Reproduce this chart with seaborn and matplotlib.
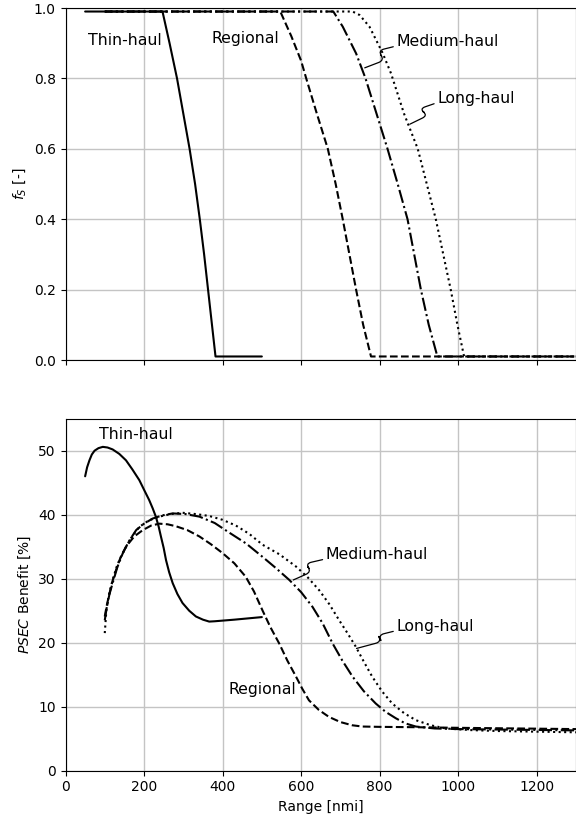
import matplotlib
matplotlib.use("Agg")
import matplotlib.pyplot as plt
import seaborn as sns
import pandas as pd

# ---------------- data ----------------
series_names = ["Thin-haul", "Regional", "Medium-haul", "Long-haul"]

# top panel: f_S [-]
thin_fs_x = [50, 247, 265, 284, 300, 316, 330, 342, 353, 363, 373, 382, 500]
thin_fs_y = [0.99, 0.99, 0.90, 0.80, 0.70, 0.60, 0.50, 0.40, 0.30, 0.20, 0.10, 0.01, 0.01]
reg_fs_x = [100, 547, 575, 600, 613, 640, 668, 688, 706, 723, 740, 758, 778, 1300]
reg_fs_y = [0.99, 0.99, 0.92, 0.85, 0.80, 0.70, 0.60, 0.50, 0.40, 0.30, 0.20, 0.10, 0.01, 0.01]
med_fs_x = [100, 682, 706, 740, 764, 792, 820, 846, 871, 888, 905, 925, 947, 1300]
med_fs_y = [0.99, 0.99, 0.947, 0.871, 0.80, 0.70, 0.60, 0.50, 0.40, 0.30, 0.20, 0.10, 0.01, 0.01]
long_fs_x = [100, 731, 749, 774, 787, 808, 829, 862, 897, 920, 943, 962, 981, 998, 1015, 1300]
long_fs_y = [0.99, 0.99, 0.98, 0.947, 0.918, 0.871, 0.814, 0.70, 0.60, 0.50, 0.40, 0.30, 0.20, 0.10, 0.01, 0.01]

# bottom panel: PSEC benefit [%]
thin_b_x = [50, 55, 61, 67, 74, 84, 95, 107, 120, 137, 154, 170, 188, 200, 213, 222, 230,
            237, 243, 250, 256, 264, 273, 285, 298, 315, 332, 350, 366, 380, 430, 500]
thin_b_y = [46.0, 47.4, 48.5, 49.4, 50.0, 50.4, 50.6, 50.5, 50.2, 49.5, 48.5, 47.1, 45.4, 43.9,
            42.3, 41.0, 39.7, 38.2, 36.6, 34.8, 32.9, 31.0, 29.3, 27.6, 26.2, 25.0, 24.1, 23.6,
            23.3, 23.35, 23.6, 24.0]
reg_b_x = [100, 105, 112, 120, 129, 140, 154, 175, 197, 218, 239, 260, 281, 310, 341, 370, 400,
           430, 459, 480, 502, 522, 544, 565, 587, 603, 620, 645, 671, 700, 730, 756, 800, 884,
           1000, 1150, 1300]
reg_b_y = [24.1, 25.8, 27.7, 29.7, 31.4, 33.3, 35.0, 36.6, 37.6, 38.3, 38.6, 38.5, 38.2, 37.6,
           36.6, 35.4, 34.0, 32.4, 30.3, 28.0, 25.0, 22.4, 19.9, 17.2, 14.7, 12.8, 11.0, 9.5,
           8.4, 7.6, 7.1, 6.9, 6.85, 6.8, 6.7, 6.6, 6.5]
med_b_x = [100, 105, 112, 120, 132, 146, 162, 180, 200, 222, 247, 273, 305, 341, 380, 417, 460,
           502, 535, 570, 600, 629, 655, 680, 705, 731, 760, 790, 815, 841, 865, 892, 940, 1000,
           1150, 1300]
med_b_y = [23.5, 25.5, 27.6, 29.3, 31.8, 34.0, 35.9, 37.6, 38.6, 39.4, 39.9, 40.2, 40.1, 39.7,
           38.7, 37.2, 35.5, 33.4, 31.7, 29.8, 27.9, 25.6, 23.0, 19.9, 17.2, 14.7, 12.4, 10.5,
           9.2, 8.2, 7.4, 6.9, 6.6, 6.5, 6.4, 6.3]
long_b_x = [100, 104, 111, 120, 132, 146, 165, 188, 212, 239, 268, 298, 332, 366, 400, 434, 468,
            502, 545, 587, 617, 646, 672, 697, 718, 739, 760, 781, 806, 832, 862, 892, 930, 968,
            1030, 1100, 1300]
long_b_y = [21.5, 25.0, 27.6, 29.8, 32.2, 34.0, 36.2, 38.1, 39.1, 39.7, 40.1, 40.3, 40.1, 39.8,
            39.2, 38.3, 37.0, 35.3, 33.8, 31.9, 30.2, 28.2, 26.0, 23.5, 21.5, 19.4, 17.0, 14.7,
            12.4, 10.5, 9.0, 7.9, 7.1, 6.6, 6.35, 6.2, 6.0]

x_ticks = [0, 200, 400, 600, 800, 1000, 1200]
fs_ticks = [0.0, 0.2, 0.4, 0.6, 0.8, 1.0]
b_ticks = [0, 10, 20, 30, 40, 50]

# ---------------- style ----------------
sns.set_theme(style="whitegrid", rc={
    "axes.edgecolor": "black", "axes.linewidth": 0.8,
    "grid.color": "#c4c4c4", "grid.linewidth": 1.0,
    "xtick.bottom": True, "ytick.left": True,
    "xtick.color": "black", "ytick.color": "black",
    "xtick.major.size": 3.5, "ytick.major.size": 3.5,
    "xtick.major.width": 0.8, "ytick.major.width": 0.8,
    "font.size": 10, "axes.labelsize": 10,
    "xtick.labelsize": 10, "ytick.labelsize": 10,
    "axes.labelcolor": "black", "text.color": "black",
})
plt.rcParams["font.family"] = ["DejaVu Sans"]
plt.rcParams["mathtext.fontset"] = "dejavusans"

dash_map = {"Thin-haul": "", "Regional": (3.7, 1.6),
            "Medium-haul": (6.4, 1.6, 1, 1.6), "Long-haul": (1, 1.65)}


def long_df(xs, ys, col):
    frames = []
    for name, x, y in zip(series_names, xs, ys):
        frames.append(pd.DataFrame({"Range": x, col: y, "Type": name}))
    return pd.concat(frames, ignore_index=True)


df_fs = long_df([thin_fs_x, reg_fs_x, med_fs_x, long_fs_x],
                [thin_fs_y, reg_fs_y, med_fs_y, long_fs_y], "fS")
df_b = long_df([thin_b_x, reg_b_x, med_b_x, long_b_x],
               [thin_b_y, reg_b_y, med_b_y, long_b_y], "Benefit")

fig = plt.figure(figsize=(5.76, 8.23), dpi=100)
ax1 = fig.add_axes([65.5 / 576, 1 - 360 / 823, 1 - 65.5 / 576, 352 / 823])
ax2 = fig.add_axes([65.5 / 576, 1 - 770.7 / 823, 1 - 65.5 / 576, 352 / 823], sharex=ax1)

for ax, df, col in [(ax1, df_fs, "fS"), (ax2, df_b, "Benefit")]:
    sns.lineplot(data=df, x="Range", y=col, style="Type", dashes=dash_map,
                 style_order=series_names, color="black", linewidth=1.5,
                 estimator=None, sort=False, legend=False, ax=ax)

ax1.set_xlim(0, 1300)
ax1.set_ylim(0, 1.0)
ax1.set_xticks(x_ticks)
ax1.set_yticks(fs_ticks)
ax1.set_yticklabels([f"{t:.1f}" for t in fs_ticks])
ax1.tick_params(labelbottom=False)
ax1.set_xlabel("")
ax1.set_ylabel("$f_S$ [-]")

ax2.set_ylim(0, 55)
ax2.set_yticks(b_ticks)
ax2.set_xticks(x_ticks)
ax2.set_xlabel("Range [nmi]")
ax2.set_ylabel("$PSEC$ Benefit [%]")

for ax in (ax1, ax2):
    ax.grid(True)
    for s in ax.spines.values():
        s.set_color("black")
        s.set_linewidth(0.8)

FS = 11.3
# plain labels
ax1.text(151, 0.909, "Thin-haul", ha="center", va="center", fontsize=FS)
ax1.text(458, 0.912, "Regional", ha="center", va="center", fontsize=FS)
ax2.text(180, 52.5, "Thin-haul", ha="center", va="center", fontsize=FS)
ax2.text(502, 12.7, "Regional", ha="center", va="center", fontsize=FS)


def squiggle(ax, label, xy, xytext, aA, lA, aB, lB):
    ax.annotate(label, xy=xy, xytext=xytext, ha="left", va="center", fontsize=FS,
                arrowprops=dict(arrowstyle="-", color="black", lw=0.9,
                                shrinkA=0, shrinkB=0, relpos=(0, 0.2),
                                connectionstyle=f"arc,angleA={aA},armA={lA},angleB={aB},armB={lB},rad=6"))


squiggle(ax1, "Medium-haul", (762, 0.830), (843, 0.905), 194, 19, 21, 21)
squiggle(ax1, "Long-haul", (877, 0.670), (947, 0.744), 199, 19, 26, 20)
squiggle(ax2, "Medium-haul", (580, 29.8), (663, 33.8), 193, 21, 24, 20)
squiggle(ax2, "Long-haul", (741, 19.1), (843, 22.6), 194, 19, 15, 26)

fig.savefig("out.png", dpi=100)
